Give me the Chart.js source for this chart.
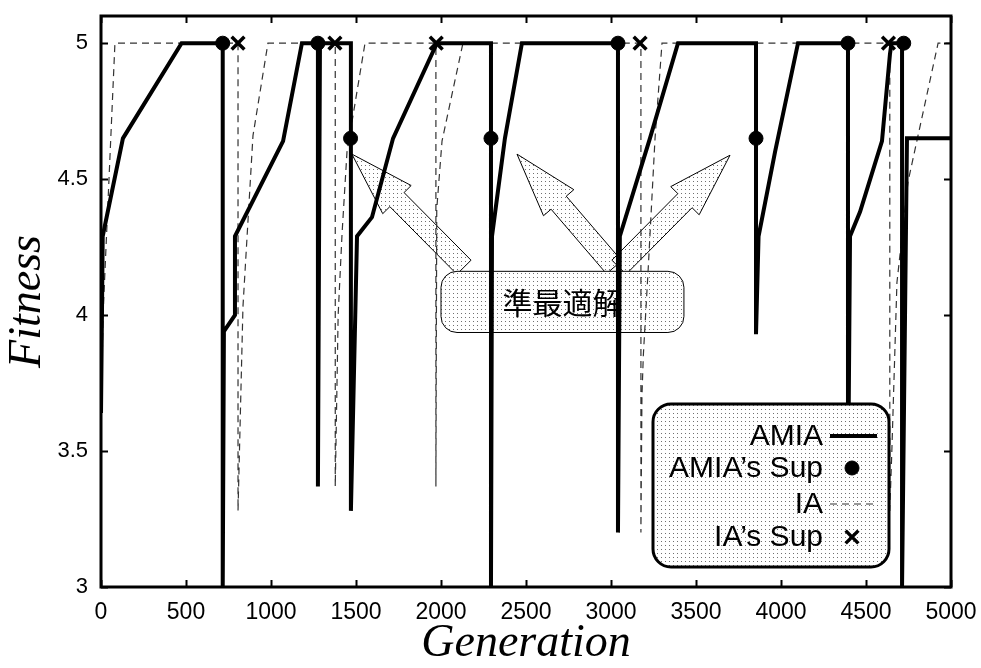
<!DOCTYPE html>
<html>
<head>
<meta charset="utf-8">
<script src="https://cdn.jsdelivr.net/npm/chart.js@4.4.1/dist/chart.umd.min.js"></script>
<style>
    html, body { margin: 0; padding: 0; background: #fff; }
    #wrap { width: 981px; height: 668px; }
</style>
</head>
<body>
<div id="wrap"><canvas id="fitnessChart" width="981" height="668"></canvas></div>
<script>
// Fitness vs generation, AMIA vs IA

const amiaGen = [0, 10, 129, 474, 716, 716, 723, 788, 788, 1071, 1182, 1276, 1276, 1288, 1470, 1470, 1506, 1594, 1718, 1976,
    2294, 2294, 2300, 2376, 2476, 3041, 3041, 3052, 3229, 3394, 3853, 3853, 3868, 3965, 4100, 4394, 4394, 4406, 4465, 4594,
    4641, 4650, 4712, 4712, 4741, 5000];
const amiaFit = [3.64, 4.29, 4.65, 5, 5, 3, 3.94, 4.0, 4.29, 4.64, 5, 5, 3.37, 5, 5, 3.28, 4.29, 4.36, 4.65, 5,
    5, 3, 4.29, 4.65, 5, 5, 3.2, 4.29, 4.65, 5, 5, 3.93, 4.29, 4.6, 5, 5, 3.3, 4.29, 4.38, 4.64,
    4.96, 5, 5, 3, 4.65, 4.65];

const iaGen = [0, 12, 82, 806, 806, 835, 894, 982, 1378, 1378, 1395, 1418, 1447, 1553, 1970, 1970, 1975, 2006, 2129,
    3176, 3176, 3182, 3190, 3218, 3259, 3300, 4640, 4640, 4652, 4682, 4747, 4924, 5000];
const iaFit = [3.6, 4.0, 5, 5, 3.28, 4.03, 4.66, 5, 5, 3.37, 4.0, 4.3, 4.6, 5, 5, 3.37, 4.39, 4.64, 5,
    5, 3.2, 3.7, 3.85, 4.16, 4.65, 5, 5, 3.28, 3.5, 4.12, 4.49, 5, 5];

const amiaSupGen = [716, 1276, 1468, 2294, 3041, 3853, 4394, 4722];
const amiaSupFit = [5, 5, 4.65, 4.65, 5, 4.65, 5, 5];
const iaSupGen = [806, 1376, 1972, 3171, 4632];
const iaSupFit = [5, 5, 5, 5, 5];

const xTicks = [0, 500, 1000, 1500, 2000, 2500, 3000, 3500, 4000, 4500, 5000];
const yTicks = [3, 3.5, 4, 4.5, 5];
const seriesNames = ['AMIA', 'AMIA’s Sup', 'IA', 'IA’s Sup'];
const noteText = '準最適解';

function toPoints(xs, ys) {
    return xs.map((x, i) => ({ x: x, y: ys[i] }));
}

// small dotted fill like the original print
function makeStipple(ctx) {
    const c = document.createElement('canvas');
    c.width = 4;
    c.height = 4;
    const g = c.getContext('2d');
    g.fillStyle = '#fff';
    g.fillRect(0, 0, 4, 4);
    g.fillStyle = '#707070';
    g.fillRect(1, 1, 1, 1);
    return ctx.createPattern(c, 'repeat');
}

function roundRect(ctx, x, y, w, h, r) {
    ctx.beginPath();
    ctx.moveTo(x + r, y);
    ctx.lineTo(x + w - r, y);
    ctx.arcTo(x + w, y, x + w, y + r, r);
    ctx.lineTo(x + w, y + h - r);
    ctx.arcTo(x + w, y + h, x + w - r, y + h, r);
    ctx.lineTo(x + r, y + h);
    ctx.arcTo(x, y + h, x, y + h - r, r);
    ctx.lineTo(x, y + r);
    ctx.arcTo(x, y, x + r, y, r);
    ctx.closePath();
}

function blockArrow(ctx, tx, ty, hx, hy, shaftHalf, headHalf, headLen) {
    const dx = hx - tx, dy = hy - ty;
    const len = Math.hypot(dx, dy);
    const ux = dx / len, uy = dy / len;
    const nx = -uy, ny = ux;
    const bx = hx - ux * headLen, by = hy - uy * headLen;
    ctx.beginPath();
    ctx.moveTo(tx + nx * shaftHalf, ty + ny * shaftHalf);
    ctx.lineTo(bx + nx * shaftHalf, by + ny * shaftHalf);
    ctx.lineTo(bx + nx * headHalf, by + ny * headHalf);
    ctx.lineTo(hx, hy);
    ctx.lineTo(bx - nx * headHalf, by - ny * headHalf);
    ctx.lineTo(bx - nx * shaftHalf, by - ny * shaftHalf);
    ctx.lineTo(tx - nx * shaftHalf, ty - ny * shaftHalf);
    ctx.closePath();
}

// callout box with arrows, drawn under the lines
const notePlugin = {
    id: 'noteBox',
    beforeDatasetsDraw(chart, args, opts) {
        const ctx = chart.ctx;
        const xs = chart.scales.x, ys = chart.scales.y;
        const fill = makeStipple(ctx);
        ctx.save();
        ctx.lineWidth = 1;
        ctx.strokeStyle = '#000';
        opts.arrows.forEach(a => {
            blockArrow(ctx,
                xs.getPixelForValue(a.from[0]), ys.getPixelForValue(a.from[1]),
                xs.getPixelForValue(a.to[0]), ys.getPixelForValue(a.to[1]),
                10, 20, 64);
            ctx.fillStyle = fill;
            ctx.fill();
            ctx.stroke();
        });
        const x0 = xs.getPixelForValue(opts.box[0]);
        const x1 = xs.getPixelForValue(opts.box[2]);
        const y0 = ys.getPixelForValue(opts.box[1]);
        const y1 = ys.getPixelForValue(opts.box[3]);
        roundRect(ctx, x0, y0, x1 - x0, y1 - y0, 16);
        ctx.fillStyle = fill;
        ctx.fill();
        ctx.stroke();
        ctx.fillStyle = '#000';
        ctx.font = '30px "Noto Sans CJK JP"';
        ctx.textAlign = 'center';
        ctx.textBaseline = 'middle';
        ctx.fillText(noteText, (x0 + x1) / 2, (y0 + y1) / 2 + 1);
        ctx.restore();
    }
};

// heavy frame and inward ticks on all four sides
const framePlugin = {
    id: 'frame',
    afterDatasetsDraw(chart) {
        const ctx = chart.ctx;
        const a = chart.chartArea;
        const xs = chart.scales.x, ys = chart.scales.y;
        const tl = 7;
        ctx.save();
        ctx.strokeStyle = '#000';
        ctx.lineWidth = 2;
        ctx.beginPath();
        xTicks.forEach(v => {
            const px = Math.round(xs.getPixelForValue(v)) + 0.5;
            ctx.moveTo(px, a.bottom);
            ctx.lineTo(px, a.bottom - tl);
            ctx.moveTo(px, a.top);
            ctx.lineTo(px, a.top + tl);
        });
        yTicks.forEach(v => {
            const py = Math.round(ys.getPixelForValue(v)) + 0.5;
            ctx.moveTo(a.left, py);
            ctx.lineTo(a.left + tl, py);
            ctx.moveTo(a.right, py);
            ctx.lineTo(a.right - tl, py);
        });
        ctx.stroke();
        ctx.lineWidth = 3;
        ctx.strokeRect(a.left, a.top, a.right - a.left, a.bottom - a.top);
        ctx.restore();
    }
};

// legend box at lower right, labels right aligned with samples after them
const legendPlugin = {
    id: 'boxLegend',
    afterDraw(chart) {
        const ctx = chart.ctx;
        const a = chart.chartArea;
        const w = 236, h = 163;
        const x = a.right - 62 - w;
        const y = a.bottom - 20 - h;
        ctx.save();
        roundRect(ctx, x, y, w, h, 18);
        ctx.fillStyle = makeStipple(ctx);
        ctx.fill();
        ctx.lineWidth = 3;
        ctx.strokeStyle = '#000';
        ctx.stroke();

        const rows = [32, 64, 100, 133];
        const textRight = x + 170;
        const sx0 = x + 177, sx1 = x + 224, mx = x + 199;
        ctx.font = '30px "Liberation Sans", Arial, sans-serif';
        ctx.textAlign = 'right';
        ctx.textBaseline = 'middle';
        chart.data.datasets.forEach((ds, i) => {
            const ry = y + rows[i];
            ctx.fillStyle = '#000';
            ctx.fillText(seriesNames[i], textRight, ry + 1);
            if (ds.showLine === false) {
                ctx.fillStyle = ds.backgroundColor;
                ctx.strokeStyle = ds.borderColor;
                ctx.lineWidth = ds.borderWidth;
                Chart.helpers.drawPoint(ctx, {
                    pointStyle: ds.pointStyle,
                    radius: ds.pointRadius,
                    borderWidth: ds.borderWidth
                }, mx, ry);
            } else {
                ctx.beginPath();
                ctx.strokeStyle = ds.borderColor;
                ctx.lineWidth = ds.borderWidth;
                ctx.setLineDash(ds.borderDash || []);
                ctx.moveTo(sx0, ry);
                ctx.lineTo(sx1, ry);
                ctx.stroke();
                ctx.setLineDash([]);
            }
        });
        ctx.restore();
    }
};

// keep the plot box where the original has it, whatever the labels need
function fixX(scale) {
    scale.height = 81;
    scale.paddingLeft = 0;
    scale.paddingRight = 0;
}

function fixY(scale) {
    scale.width = 101;
    scale.paddingTop = 0;
    scale.paddingBottom = 0;
}

const ctx = document.getElementById('fitnessChart').getContext('2d');
new Chart(ctx, {
    type: 'line',
    data: {
        datasets: [
            {
                label: seriesNames[0],
                data: toPoints(amiaGen, amiaFit),
                borderColor: '#000',
                borderWidth: 4,
                borderJoinStyle: 'miter',
                pointRadius: 0,
                tension: 0,
                order: 3
            },
            {
                label: seriesNames[1],
                type: 'scatter',
                data: toPoints(amiaSupGen, amiaSupFit),
                showLine: false,
                pointStyle: 'circle',
                pointRadius: 7,
                backgroundColor: '#000',
                borderColor: '#000',
                borderWidth: 1,
                order: 1
            },
            {
                label: seriesNames[2],
                data: toPoints(iaGen, iaFit),
                borderColor: '#333',
                borderWidth: 1.2,
                borderDash: [7, 5],
                pointRadius: 0,
                tension: 0,
                order: 4
            },
            {
                label: seriesNames[3],
                type: 'scatter',
                data: toPoints(iaSupGen, iaSupFit),
                showLine: false,
                pointStyle: 'crossRot',
                pointRadius: 9,
                backgroundColor: '#000',
                borderColor: '#000',
                borderWidth: 3.5,
                order: 2
            }
        ]
    },
    options: {
        responsive: false,
        animation: false,
        layout: { padding: { top: 16, right: 30, left: 0, bottom: 0 } },
        plugins: {
            legend: { display: false },
            tooltip: { enabled: false },
            noteBox: {
                box: [2000, 4.161, 3429, 3.936],
                arrows: [
                    { from: [2135, 4.176], to: [1476, 4.592] },
                    { from: [3018, 4.176], to: [2447, 4.592] },
                    { from: [3047, 4.176], to: [3700, 4.588] }
                ]
            }
        },
        scales: {
            x: {
                type: 'linear',
                min: 0,
                max: 5000,
                afterBuildTicks: scale => { scale.ticks = xTicks.map(v => ({ value: v })); },
                afterFit: fixX,
                grid: { display: false, drawTicks: false },
                border: { display: false },
                ticks: {
                    color: '#000',
                    padding: 12,
                    maxRotation: 0,
                    font: { family: '"Liberation Sans", Arial, sans-serif', size: 23 },
                    callback: v => String(v)
                },
                title: {
                    display: true,
                    text: 'Generation',
                    color: '#000',
                    padding: 0,
                    font: { family: '"Liberation Serif", "Times New Roman", serif', size: 46, style: 'italic', lineHeight: 1.05 }
                }
            },
            y: {
                type: 'linear',
                min: 3,
                max: 5.1,
                afterBuildTicks: scale => { scale.ticks = yTicks.map(v => ({ value: v })); },
                afterFit: fixY,
                grid: { display: false, drawTicks: false },
                border: { display: false },
                ticks: {
                    color: '#000',
                    padding: 13,
                    font: { family: '"Liberation Sans", Arial, sans-serif', size: 22 },
                    callback: v => String(v)
                },
                title: {
                    display: true,
                    text: 'Fitness',
                    color: '#000',
                    padding: 0,
                    font: { family: '"Liberation Serif", "Times New Roman", serif', size: 46, style: 'italic' }
                }
            }
        }
    },
    plugins: [notePlugin, framePlugin, legendPlugin]
});
</script>
</body>
</html>
